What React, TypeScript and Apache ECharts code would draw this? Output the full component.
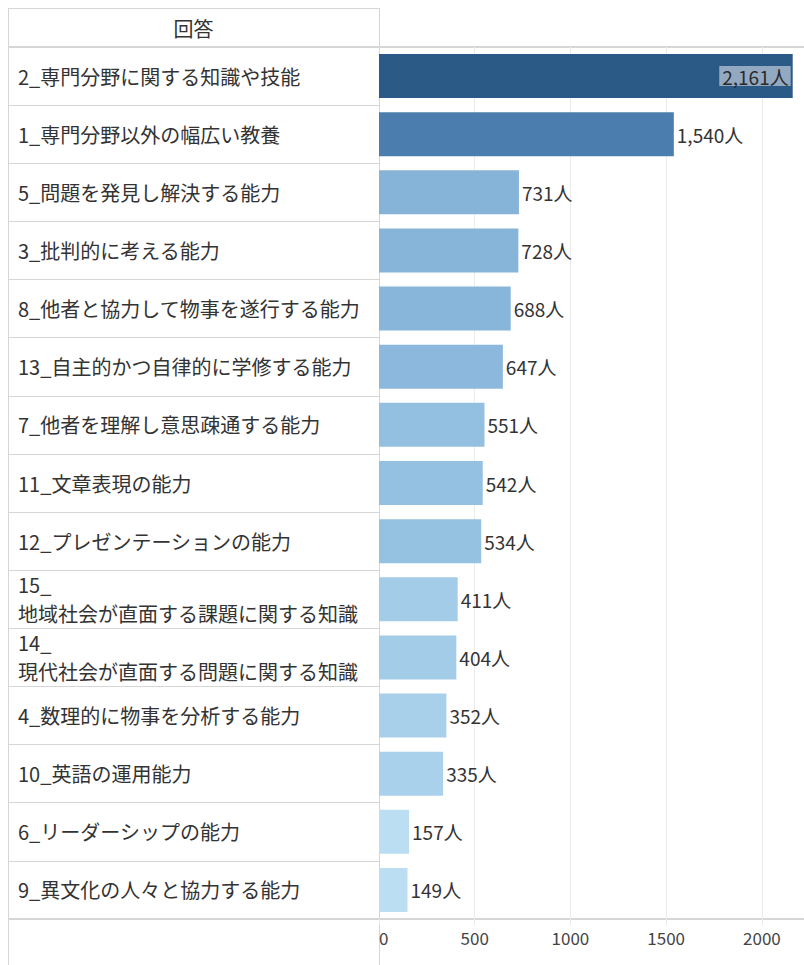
import React, { useEffect, useRef } from "react";
import * as echarts from "echarts";

const categories = [
  "2_専門分野に関する知識や技能",
  "1_専門分野以外の幅広い教養",
  "5_問題を発見し解決する能力",
  "3_批判的に考える能力",
  "8_他者と協力して物事を遂行する能力",
  "13_自主的かつ自律的に学修する能力",
  "7_他者を理解し意思疎通する能力",
  "11_文章表現の能力",
  "12_プレゼンテーションの能力",
  "15_\n地域社会が直面する課題に関する知識",
  "14_\n現代社会が直面する問題に関する知識",
  "4_数理的に物事を分析する能力",
  "10_英語の運用能力",
  "6_リーダーシップの能力",
  "9_異文化の人々と協力する能力",
];

const values = [2161, 1540, 731, 728, 688, 647, 551, 542, 534, 411, 404, 352, 335, 157, 149];

const barColors = [
  "#2c5a86",
  "#4b7eae",
  "#86b4d9",
  "#86b5d9",
  "#88b6da",
  "#8bb8dc",
  "#93c0e0",
  "#94c1e1",
  "#95c2e1",
  "#a2cce8",
  "#a3cce8",
  "#a8d0ea",
  "#aad1eb",
  "#bbdef2",
  "#bcdef3",
];

const xTicks = [0, 500, 1000, 1500, 2000];

const headerTitle = "回答";

export default function App() {
  const ref = useRef<HTMLDivElement>(null);

  useEffect(() => {
    document.body.style.margin = "0";
    if (!ref.current) return;
    const chart = echarts.init(ref.current, undefined, { renderer: "svg" });
    const font = "'Noto Sans CJK JP', 'Noto Sans', sans-serif";
    const lineColor = "#d6d6d6";
    const fmt = (v: number) => v.toLocaleString("en-US") + "人";

    chart.setOption({
      animation: false,
      grid: { left: 379, top: 47, right: 0, bottom: 46, containLabel: false },
      xAxis: {
        type: "value",
        min: 0,
        max: 2220,
        interval: 500,
        position: "bottom",
        axisLine: { show: false },
        axisTick: { show: true, length: 6, lineStyle: { color: "#eaeaea" } },
        splitLine: { show: true, lineStyle: { color: "#ececec", width: 1 } },
        axisLabel: {
          margin: 10,
          fontSize: 17,
          color: "#444",
          fontFamily: font,
          alignMinLabel: "left",
          customValues: xTicks,
          formatter: (v: number) => (xTicks.includes(v) ? String(v) : ""),
        },
      },
      yAxis: {
        type: "category",
        data: categories,
        inverse: true,
        axisLine: { show: true, lineStyle: { color: lineColor } },
        axisTick: { show: true, length: 371, lineStyle: { color: lineColor } },
        axisLabel: {
          align: "left",
          margin: 361,
          fontSize: 20,
          lineHeight: 29,
          color: "#333",
          fontFamily: font,
        },
      },
      series: [
        {
          type: "bar",
          barWidth: 44,
          data: values.map((v, i) => ({
            value: v,
            itemStyle: { color: barColors[i] },
            label:
              i === 0
                ? {
                    show: true,
                    position: "insideRight",
                    distance: 2,
                    backgroundColor: "#93a9c2",
                    padding: [0, 2, 0, 3],
                    lineHeight: 20,
                    color: "#2a2a2a",
                  }
                : undefined,
          })),
          label: {
            show: true,
            position: "right",
            distance: 3,
            fontSize: 19,
            color: "#333",
            fontFamily: font,
            formatter: (p: any) => fmt(p.value),
          },
        },
      ],
      graphic: [
        { type: "line", shape: { x1: 8.5, y1: 8.5, x2: 8.5, y2: 965 }, style: { stroke: lineColor, lineWidth: 1 } },
        { type: "line", shape: { x1: 8, y1: 8.5, x2: 379, y2: 8.5 }, style: { stroke: lineColor, lineWidth: 1 } },
        { type: "line", shape: { x1: 379.5, y1: 8, x2: 379.5, y2: 965 }, style: { stroke: lineColor, lineWidth: 1 } },
        { type: "line", shape: { x1: 8, y1: 47, x2: 804, y2: 47 }, style: { stroke: lineColor, lineWidth: 2 } },
        { type: "line", shape: { x1: 8, y1: 919, x2: 804, y2: 919 }, style: { stroke: lineColor, lineWidth: 2 } },
        {
          type: "text",
          x: 193.5,
          y: 28,
          style: {
            text: headerTitle,
            fontSize: 20,
            fill: "#333",
            fontFamily: font,
            align: "center",
            verticalAlign: "middle",
          },
        },
      ],
    });
    return () => chart.dispose();
  }, []);

  return <div ref={ref} style={{ width: 804, height: 965 }} />;
}
